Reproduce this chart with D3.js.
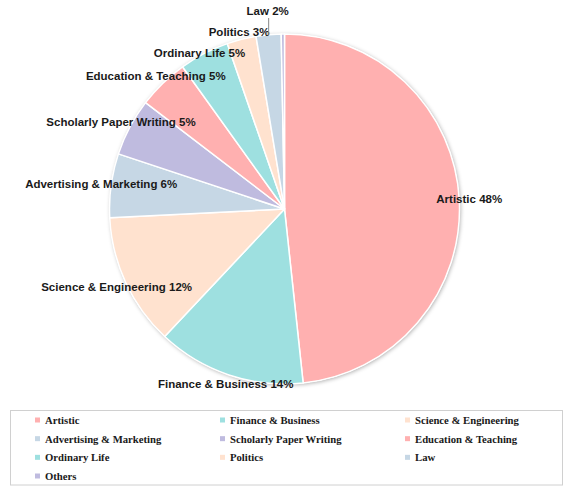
<!DOCTYPE html>
<html>
<head>
<meta charset="utf-8">
<script src="https://cdn.jsdelivr.net/npm/d3@7"></script>
<style>
  html, body { margin: 0; padding: 0; background: #fff; }
  svg { display: block; }
</style>
</head>
<body>
<svg id="chart" width="565" height="486"></svg>
<script>
// ---- data ----
const categories = ["Artistic", "Finance & Business", "Science & Engineering", "Advertising & Marketing",
  "Scholarly Paper Writing", "Education & Teaching", "Ordinary Life", "Politics", "Law", "Others"];
const shares = [48.3, 13.7, 12.2, 5.9, 5.3, 4.7, 4.6, 2.7, 2.3, 0.3];
const labelPercents = ["48%", "14%", "12%", "6%", "5%", "5%", "5%", "3%", "2%", null];
const palette = ["#ffb0b0", "#9ee0e0", "#ffe2cf", "#c6d7e5", "#bfbbdf"];

// ---- layout ----
const cx = 284.5, cy = 209, R = 175;
const svg = d3.select("#chart");

const defs = svg.append("defs");
const f = defs.append("filter").attr("id", "shadow")
  .attr("x", "-10%").attr("y", "-10%").attr("width", "120%").attr("height", "120%");
f.append("feDropShadow").attr("dx", 1).attr("dy", 1).attr("stdDeviation", 2)
  .attr("flood-color", "#000").attr("flood-opacity", 0.35);

const data = categories.map((c, i) => ({ name: c, value: shares[i], pct: labelPercents[i], i }));
const color = d3.scaleOrdinal().domain(categories).range(palette);

const pie = d3.pie().value(d => d.value).sort(null);
const arcs = pie(data);
const arc = d3.arc().innerRadius(0).outerRadius(R);

const g = svg.append("g").attr("transform", `translate(${cx},${cy})`);
g.append("circle").attr("r", R).attr("fill", "#fff").attr("filter", "url(#shadow)");
g.selectAll("path.slice").data(arcs).join("path")
  .attr("class", "slice")
  .attr("d", arc)
  .attr("fill", d => color(d.data.name))
  .attr("stroke", "#fff")
  .attr("stroke-width", 1.5)
  .attr("stroke-linejoin", "round");

// ---- labels ----
const LR = 185, GAP = 21, TOP = -cy + 11;
const labels = arcs.filter(d => d.data.pct).map(d => {
  const a = (d.startAngle + d.endAngle) / 2;
  return { d, a, x: LR * Math.sin(a), y: -LR * Math.cos(a), y0: -LR * Math.cos(a),
           side: Math.sin(a) >= 0 ? "R" : "L", text: d.data.name + " " + d.data.pct };
});
// de-overlap on each side: bottom-up, then clamp to top and push down
["L", "R"].forEach(side => {
  const s = labels.filter(l => l.side === side).sort((p, q) => q.y - p.y);
  for (let k = 1; k < s.length; k++) {
    if (s[k].y > s[k - 1].y - GAP) s[k].y = s[k - 1].y - GAP;
  }
  for (let k = s.length - 1; k >= 0; k--) {
    if (k === s.length - 1) s[k].y = Math.max(s[k].y, TOP);
    else s[k].y = Math.max(s[k].y, s[k + 1].y + GAP);
  }
});

const lg = g.append("g")
  .attr("font-family", "Arial, 'Liberation Sans', Helvetica, sans-serif")
  .attr("font-weight", "bold").attr("font-size", 11.5).attr("fill", "#1a1a1a");
labels.forEach(l => {
  if (l.y0 - l.y > 8) {
    const edgeY = -Math.sqrt(R * R - l.x * l.x);
    lg.append("line")
      .attr("x1", l.x + 1).attr("x2", l.x + 1)
      .attr("y1", l.y + 7).attr("y2", edgeY)
      .attr("stroke", "#888").attr("stroke-width", 1);
  }
  lg.append("text")
    .attr("x", l.x).attr("y", l.y)
    .attr("text-anchor", "middle")
    .attr("dominant-baseline", "central")
    .text(l.text);
});

// ---- legend ----
const legend = svg.append("g");
legend.append("rect")
  .attr("x", 10.5).attr("y", 410.5).attr("width", 552).attr("height", 74.5)
  .attr("fill", "#fff").attr("stroke", "#d0d0d0").attr("stroke-width", 1);
const colX = d3.scalePoint().domain([0, 1, 2]).range([35, 405]);
const rowY = d3.scalePoint().domain([0, 1, 2, 3]).range([420, 476]);
const items = legend.selectAll("g.item").data(data).join("g")
  .attr("class", "item")
  .attr("transform", (d, i) => `translate(${colX(i % 3)},${rowY(Math.floor(i / 3))})`);
items.append("rect").attr("x", 0).attr("y", -2.5).attr("width", 5).attr("height", 5)
  .attr("fill", d => color(d.name));
items.append("text").attr("x", 10).attr("y", 0)
  .attr("dominant-baseline", "central")
  .attr("font-family", "'Times New Roman', 'Liberation Serif', serif")
  .attr("font-weight", "bold").attr("font-size", 10.7).attr("fill", "#1a1a1a")
  .text(d => d.name);
</script>
</body>
</html>
